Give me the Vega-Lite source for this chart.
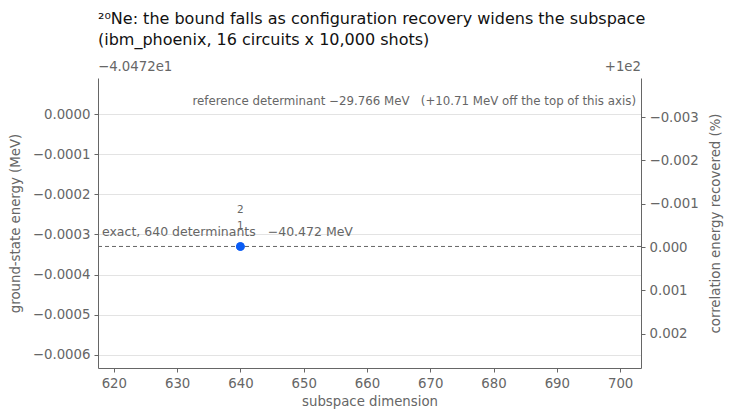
{
  "$schema": "https://vega.github.io/schema/vega-lite/v6.json",
  "width": 730,
  "height": 420,
  "autosize": {"type": "fit", "contains": "padding"},
  "padding": {"left": 8, "right": 8, "top": 11, "bottom": 12},
  "config": {
    "font": "DejaVu Sans",
    "view": {"stroke": null},
    "axis": {
      "labelFont": "DejaVu Sans",
      "titleFont": "DejaVu Sans",
      "labelFontSize": 13.3,
      "titleFontSize": 13.3,
      "titleFontWeight": "normal",
      "labelColor": "#666666",
      "titleColor": "#666666",
      "domainColor": "#666666",
      "tickColor": "#666666",
      "tickSize": 4,
      "labelPadding": 4,
      "gridColor": "#e3e3e3"
    }
  },
  "title": {
    "text": ["²⁰Ne: the bound falls as configuration recovery widens the subspace", "(ibm_phoenix, 16 circuits x 10,000 shots)"],
    "anchor": "start",
    "frame": "group",
    "font": "DejaVu Sans",
    "fontSize": 16,
    "fontWeight": "normal",
    "color": "#111111",
    "lineHeight": 21,
    "offset": 12
  },
  "datasets": {
    "runs": [
      {"iteration": "1", "dimension": 640, "energy": -40.47233},
      {"iteration": "2", "dimension": 640, "energy": -40.47233}
    ],
    "exact": [
      {"dimension": 617.5, "energy": -40.47233, "label": "exact, 640 determinants \u00a0\u00a0−40.472 MeV"}
    ],
    "notes": [
      {"dimension": 703.3, "energy": -40.472, "label": "reference determinant −29.766 MeV \u00a0\u00a0(+10.71 MeV off the top of this axis)"}
    ],
    "offsets": [
      {"dimension": 617.5, "energy": -40.47191, "label": "−4.0472e1", "side": "left"},
      {"dimension": 703.3, "energy": -40.47191, "label": "+1e2", "side": "right"}
    ],
    "recovered": [
      {"dimension": 640, "recovered": 100.0}
    ]
  },
  "layer": [
    {
      "layer": [
        {
          "data": {"name": "exact"},
          "mark": {"type": "rule", "color": "#666666", "strokeDash": [4, 3], "strokeWidth": 1},
          "encoding": {
            "y": {
              "field": "energy",
              "type": "quantitative",
              "title": "ground-state energy (MeV)",
              "scale": {"domain": [-40.472633, -40.47191], "zero": false, "nice": false},
              "axis": {
                "values": [-40.472, -40.4721, -40.4722, -40.4723, -40.4724, -40.4725, -40.4726],
                "labelExpr": "format(datum.value + 40.472, '.4f')",
                "grid": true,
                "titlePadding": 10
              }
            }
          }
        },
        {
          "data": {"name": "exact"},
          "mark": {"type": "text", "align": "left", "baseline": "bottom", "dx": 4, "dy": -7, "fontSize": 12.5, "color": "#666666", "clip": false},
          "encoding": {
            "x": {"field": "dimension", "type": "quantitative"},
            "y": {"field": "energy", "type": "quantitative", "title": "ground-state energy (MeV)"},
            "text": {"field": "label"}
          }
        },
        {
          "data": {"name": "notes"},
          "mark": {"type": "text", "align": "right", "baseline": "middle", "dx": -5, "dy": -13, "fontSize": 11.8, "color": "#666666"},
          "encoding": {
            "x": {"field": "dimension", "type": "quantitative"},
            "y": {"field": "energy", "type": "quantitative", "title": "ground-state energy (MeV)"},
            "text": {"field": "label"}
          }
        },
        {
          "data": {"name": "offsets"},
          "transform": [{"filter": "datum.side == 'left'"}],
          "mark": {"type": "text", "align": "left", "baseline": "bottom", "dy": -4, "fontSize": 13.3, "color": "#666666", "clip": false},
          "encoding": {
            "x": {"field": "dimension", "type": "quantitative"},
            "y": {"field": "energy", "type": "quantitative", "title": "ground-state energy (MeV)"},
            "text": {"field": "label"}
          }
        },
        {
          "data": {"name": "offsets"},
          "transform": [{"filter": "datum.side == 'right'"}],
          "mark": {"type": "text", "align": "right", "baseline": "bottom", "dy": -4, "fontSize": 13.3, "color": "#666666", "clip": false},
          "encoding": {
            "x": {"field": "dimension", "type": "quantitative"},
            "y": {"field": "energy", "type": "quantitative", "title": "ground-state energy (MeV)"},
            "text": {"field": "label"}
          }
        },
        {
          "data": {"name": "runs"},
          "mark": {"type": "circle", "color": "#0a5cf5", "opacity": 1, "size": 75},
          "encoding": {
            "x": {
              "field": "dimension",
              "type": "quantitative",
              "title": "subspace dimension",
              "scale": {"domain": [617.5, 703.3], "zero": false, "nice": false},
              "axis": {"values": [620, 630, 640, 650, 660, 670, 680, 690, 700], "grid": false, "titlePadding": 5}
            },
            "y": {"field": "energy", "type": "quantitative", "title": "ground-state energy (MeV)"}
          }
        },
        {
          "data": {"name": "runs"},
          "transform": [{"filter": "datum.iteration == '1'"}],
          "mark": {"type": "text", "baseline": "middle", "dy": -20, "fontSize": 10.5, "color": "#666666"},
          "encoding": {
            "x": {"field": "dimension", "type": "quantitative"},
            "y": {"field": "energy", "type": "quantitative", "title": "ground-state energy (MeV)"},
            "text": {"field": "iteration"}
          }
        },
        {
          "data": {"name": "runs"},
          "transform": [{"filter": "datum.iteration == '2'"}],
          "mark": {"type": "text", "baseline": "middle", "dy": -36, "fontSize": 10.5, "color": "#666666"},
          "encoding": {
            "x": {"field": "dimension", "type": "quantitative"},
            "y": {"field": "energy", "type": "quantitative", "title": "ground-state energy (MeV)"},
            "text": {"field": "iteration"}
          }
        }
      ]
    },
    {
      "data": {"name": "recovered"},
      "mark": {"type": "circle", "opacity": 0},
      "encoding": {
        "x": {"field": "dimension", "type": "quantitative"},
        "y": {
          "field": "recovered",
          "type": "quantitative",
          "title": "correlation energy recovered (%)",
          "scale": {"domain": [99.9961, 100.00279], "zero": false, "nice": false, "reverse": true},
          "axis": {
            "orient": "right",
            "values": [99.997, 99.998, 99.999, 100.0, 100.001, 100.002],
            "labelExpr": "format(datum.value - 100, '.3f')",
            "grid": false,
            "titleAngle": 270,
            "titleBaseline": "top",
            "titlePadding": 10
          }
        }
      }
    }
  ],
  "resolve": {"scale": {"y": "independent"}}
}
